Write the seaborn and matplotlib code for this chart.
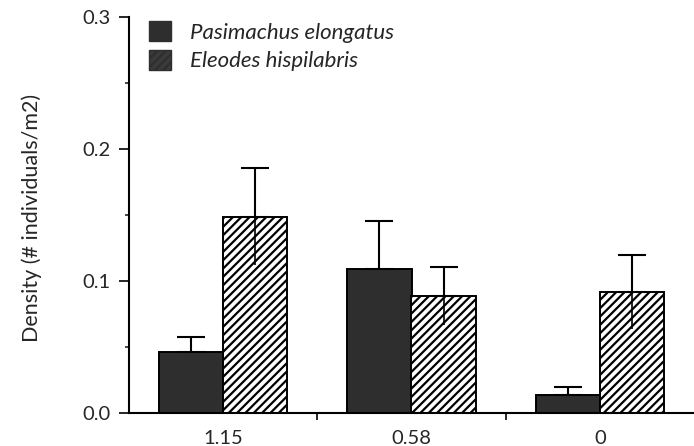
import matplotlib
matplotlib.use("Agg")
import matplotlib.pyplot as plt
from matplotlib.patches import Patch
from matplotlib.ticker import MultipleLocator, FixedLocator
import seaborn as sns
import pandas as pd
import numpy as np

# ---- data ----
categories = ['1.15', '0.58', '0']
species = ['Pasimachus elongatus', 'Eleodes hispilabris']
pasimachus = [0.046, 0.109, 0.014]
pasimachus_err = [0.012, 0.037, 0.006]
eleodes = [0.149, 0.089, 0.092]
eleodes_err = [0.037, 0.022, 0.028]
y_label = 'Density (# individuals/m2)'

df = pd.DataFrame({
    'cover': categories * 2,
    'density': pasimachus + eleodes,
    'species': [species[0]] * 3 + [species[1]] * 3,
})
errs = {species[0]: pasimachus_err, species[1]: eleodes_err}

sns.set_style('ticks')
plt.rcParams['font.family'] = ['Lato', 'DejaVu Sans']
plt.rcParams['hatch.linewidth'] = 1.6

dark = '#2e2e2e'
fig = plt.figure(figsize=(6.94, 4.46), dpi=100)
ax = fig.add_axes([129 / 694, 33 / 446, 565 / 694, 395.5 / 446])

sns.barplot(data=df, x='cover', y='density', hue='species',
            order=categories, hue_order=species,
            palette=[dark, 'white'], width=0.68, errorbar=None,
            edgecolor='black', linewidth=1.4, legend=False, ax=ax)

xs_up, ys_up, es_up = [], [], []
xs_lo, ys_lo, es_lo = [], [], []
for p in ax.patches:
    fc = p.get_facecolor()
    is_hatch = fc[0] > 0.5
    sp = species[1] if is_hatch else species[0]
    xc = p.get_x() + p.get_width() / 2
    ci = int(round(xc))
    e = errs[sp][ci]
    h = p.get_height()
    xs_up.append(xc); ys_up.append(h); es_up.append(e)
    if is_hatch:
        p.set_hatch('////')
        xs_lo.append(xc); ys_lo.append(h); es_lo.append(e)

ax.errorbar(xs_up, ys_up, yerr=[np.zeros(len(es_up)), es_up], fmt='none',
            ecolor='black', elinewidth=1.5, capsize=10, capthick=1.5, zorder=3)
ax.errorbar(xs_lo, ys_lo, yerr=[es_lo, np.zeros(len(es_lo))], fmt='none',
            ecolor='black', elinewidth=1.2, capsize=0, zorder=3)

ax.set_xlim(-0.5, 2.5)
ax.set_ylim(0, 0.3)
ax.yaxis.set_major_locator(MultipleLocator(0.1))
ax.yaxis.set_minor_locator(MultipleLocator(0.05))
ax.yaxis.set_major_formatter(matplotlib.ticker.FormatStrFormatter('%.1f'))
ax.xaxis.set_minor_locator(FixedLocator([0.5, 1.5]))

ax.tick_params(axis='y', which='major', length=7, width=1.4, labelsize=14.5, pad=6)
ax.tick_params(axis='y', which='minor', length=3, width=1.2)
ax.tick_params(axis='x', which='major', length=0, labelsize=14.5, pad=12)
ax.tick_params(axis='x', which='minor', length=5, width=1.4)

for s in ['top', 'right']:
    ax.spines[s].set_visible(False)
for s in ['left', 'bottom']:
    ax.spines[s].set_linewidth(1.5)
    ax.spines[s].set_color('black')

ax.set_xlabel('')
ax.set_ylabel(y_label, fontsize=15.5)
ax.yaxis.set_label_coords(-0.154, 0.494)

handles = [Patch(facecolor=dark, edgecolor=dark),
           Patch(facecolor='#3a3a3a', edgecolor=dark, hatch='////')]
ax.legend(handles, species, loc='upper left', bbox_to_anchor=(0.035, 0.99),
          frameon=False, borderpad=0, borderaxespad=0,
          prop={'style': 'italic', 'size': 16},
          handlelength=1.0, handleheight=1.0, handletextpad=0.85,
          labelspacing=0.3)

fig.savefig('out.png', dpi=100)
